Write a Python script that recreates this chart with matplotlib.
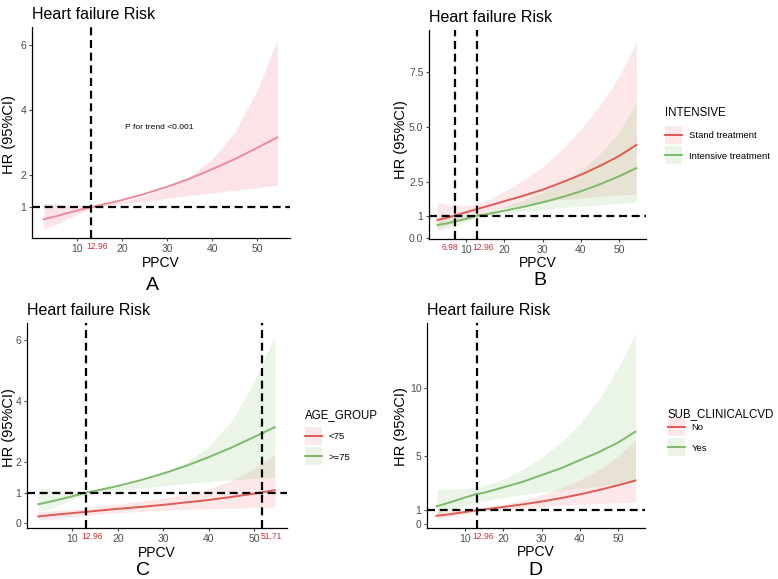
import matplotlib
matplotlib.use("Agg")
import matplotlib.pyplot as plt
from matplotlib.patches import Rectangle
from matplotlib.lines import Line2D
from matplotlib.legend_handler import HandlerBase
from matplotlib.transforms import blended_transform_factory

plt.rcParams['font.family'] = ['Liberation Sans', 'DejaVu Sans']

# PPCV grid the curves were read at
ppcv = [2.5, 5, 10, 12.96, 15, 20, 25, 30, 35, 40, 45, 50, 54.5]

# A: overall
a_hr = [0.63, 0.71, 0.90, 1.00, 1.06, 1.22, 1.41, 1.63, 1.88, 2.17, 2.48, 2.83, 3.15]
a_hi = [1.12, 1.10, 1.04, 1.02, 1.07, 1.18, 1.35, 1.60, 1.95, 2.48, 3.30, 4.60, 6.15]
a_lo = [0.33, 0.45, 0.78, 0.97, 1.03, 1.10, 1.18, 1.27, 1.36, 1.44, 1.52, 1.60, 1.68]

# B: INTENSIVE
b_std_hr = [0.80, 0.90, 1.15, 1.30, 1.40, 1.65, 1.90, 2.17, 2.50, 2.85, 3.25, 3.70, 4.20]
b_std_hi = [1.60, 1.50, 1.45, 1.55, 1.65, 2.10, 2.60, 3.20, 4.00, 4.90, 6.00, 7.30, 8.90]
b_std_lo = [0.40, 0.55, 0.85, 1.05, 1.15, 1.35, 1.50, 1.62, 1.72, 1.80, 1.87, 1.93, 1.97]
b_int_hr = [0.57, 0.65, 0.85, 1.00, 1.05, 1.22, 1.40, 1.60, 1.83, 2.10, 2.42, 2.78, 3.15]
b_int_hi = [0.95, 0.95, 1.00, 1.08, 1.15, 1.40, 1.70, 2.05, 2.50, 3.05, 3.80, 4.80, 6.15]
b_int_lo = [0.30, 0.40, 0.70, 0.92, 0.98, 1.08, 1.18, 1.27, 1.35, 1.42, 1.48, 1.55, 1.60]

# C: AGE_GROUP
c_y_hr = [0.22, 0.26, 0.33, 0.37, 0.40, 0.47, 0.53, 0.60, 0.68, 0.76, 0.86, 0.97, 1.08]
c_y_hi = [0.38, 0.40, 0.45, 0.50, 0.55, 0.63, 0.72, 0.82, 0.95, 1.12, 1.40, 1.80, 2.25]
c_y_lo = [0.10, 0.13, 0.20, 0.25, 0.28, 0.34, 0.38, 0.42, 0.45, 0.47, 0.49, 0.51, 0.52]
c_o_hr = [0.62, 0.70, 0.88, 1.00, 1.06, 1.22, 1.41, 1.63, 1.88, 2.17, 2.48, 2.83, 3.15]
c_o_hi = [1.15, 1.12, 1.05, 1.03, 1.08, 1.20, 1.38, 1.65, 2.00, 2.52, 3.35, 4.65, 6.15]
c_o_lo = [0.38, 0.47, 0.78, 0.93, 1.00, 1.08, 1.15, 1.22, 1.30, 1.36, 1.42, 1.47, 1.50]

# D: SUB_CLINICALCVD
d_no_hr = [0.60, 0.68, 0.88, 1.00, 1.07, 1.25, 1.44, 1.65, 1.90, 2.18, 2.50, 2.85, 3.20]
d_no_hi = [0.90, 0.95, 1.05, 1.12, 1.20, 1.45, 1.75, 2.15, 2.65, 3.25, 4.00, 5.00, 6.20]
d_no_lo = [0.35, 0.45, 0.72, 0.88, 0.95, 1.08, 1.18, 1.28, 1.36, 1.44, 1.50, 1.56, 1.60]
d_yes_hr = [1.30, 1.50, 1.95, 2.20, 2.30, 2.70, 3.10, 3.60, 4.10, 4.70, 5.30, 6.00, 6.80]
d_yes_hi = [2.60, 2.55, 2.60, 2.70, 2.85, 3.30, 4.00, 4.90, 6.00, 7.40, 9.20, 11.50, 14.00]
d_yes_lo = [0.75, 0.95, 1.35, 1.60, 1.70, 1.95, 2.15, 2.35, 2.50, 2.65, 2.80, 2.95, 3.05]

RED = '#DE5A54'
GREEN = '#7DB96A'
RED_FILL = '#F28C8C'
GREEN_FILL = '#8FCB7E'
PINK = '#E98C9B'
PINK_FILL = '#F7C3CB'
LABEL_RED = '#C8343F'

W, H = 778, 579
fig = plt.figure(figsize=(W / 100, H / 100), dpi=100)


class KeyHandler(HandlerBase):
    # ggplot-like key: filled square with the line through its middle
    def create_artists(self, legend, orig_handle, xdescent, ydescent,
                       width, height, fontsize, trans):
        line, fill, alpha = orig_handle
        c = 0.35 * fontsize
        hk = 1.9 * fontsize
        rect = Rectangle((-xdescent, c - hk / 2), width, hk, facecolor=fill,
                         alpha=alpha, edgecolor='none', transform=trans)
        ln = Line2D([-xdescent, -xdescent + width], [c, c], color=line,
                    lw=1.4, transform=trans)
        return [rect, ln]


def box(left, top, right, bottom):
    return [left / W, 1 - bottom / H, (right - left) / W, (bottom - top) / H]


def style(ax, xlim, ylim, yticks, ylabels, cuts, xlab_y, ylab_xy):
    ax.set_xlim(*xlim)
    ax.set_ylim(*ylim)
    ax.set_xticks([10, 20, 30, 40, 50])
    ax.set_yticks(yticks)
    ax.set_yticklabels(ylabels)
    for s in ['top', 'right']:
        ax.spines[s].set_visible(False)
    for s in ['left', 'bottom']:
        ax.spines[s].set_linewidth(0.9)
    ax.tick_params(length=2.5, width=0.8, pad=1.5, labelsize=7.5,
                   colors='#4D4D4D')
    ax.axhline(1, color='black', lw=1.6, ls=(0, (3.6, 2.1)), zorder=5)
    for v in cuts:
        ax.axvline(v, color='black', lw=1.6, ls=(0, (3.6, 2.1)), zorder=5)
    ax.set_title('Heart failure Risk', loc='left', fontsize=11.5, pad=6)
    ax.set_xlabel('PPCV', fontsize=10, va='center')
    ax.xaxis.set_label_coords(0.5, 1 - xlab_y / H,
                              transform=blended_transform_factory(ax.transAxes, fig.transFigure))
    ax.set_ylabel('HR (95%CI)', fontsize=10.5, va='center', ha='center')
    ax.yaxis.set_label_coords(ylab_xy[0] / W, 1 - ylab_xy[1] / H,
                              transform=fig.transFigure)


def cut_label(ax, v, side='left', dx=-3.3):
    ax.annotate(f'{v:.2f}', xy=(v, 0), xycoords=('data', 'axes fraction'),
                xytext=(dx, -3), textcoords='offset points', ha=side,
                va='top', fontsize=6.2, color=LABEL_RED)


def band(ax, hr, lo, hi, line, fill, alpha):
    ax.fill_between(ppcv, lo, hi, color=fill, alpha=alpha, lw=0)
    ax.plot(ppcv, hr, color=line, lw=1.4)


def add_legend(title, labels, left, title_y, first_top):
    fig.text(left / W, 1 - title_y / H, title, fontsize=8.3,
             ha='left', va='center')
    handles = [(RED, RED_FILL, 0.2), (GREEN, GREEN_FILL, 0.18)]
    fig.legend(handles, labels, loc='upper left',
               bbox_to_anchor=(left / W, 1 - first_top / H), frameon=False,
               fontsize=6.8, handlelength=1.8, handleheight=2.7,
               labelspacing=0.15, handletextpad=0.7,
               borderpad=0, borderaxespad=0,
               handler_map={tuple: KeyHandler()})


# A
ax = fig.add_axes(box(32, 27, 290, 238))
band(ax, a_hr, a_lo, a_hi, PINK, PINK_FILL, 0.45)
style(ax, (-0.1, 57.3), (0.05, 6.55), [1, 2, 4, 6], ['1', '2', '4', '6'],
      [12.96], 263, (9, 135))
cut_label(ax, 12.96)
ax.text(20.7, 3.46, 'P for trend <0.001', fontsize=6.1, va='center')

# B
ax = fig.add_axes(box(429, 30, 646, 239))
band(ax, b_std_hr, b_std_lo, b_std_hi, RED, RED_FILL, 0.2)
band(ax, b_int_hr, b_int_lo, b_int_hi, GREEN, GREEN_FILL, 0.18)
style(ax, (0.3, 57.0), (-0.06, 9.4), [0, 1, 2.5, 5, 7.5],
      ['0.0', '1', '2.5', '5.0', '7.5'], [6.98, 12.96], 263, (401, 140))
cut_label(ax, 6.98, 'right', 2.6)
cut_label(ax, 12.96)
add_legend('INTENSIVE', ['Stand treatment', 'Intensive treatment'],
           665, 113, 126)

# C
ax = fig.add_axes(box(27, 323, 287, 528))
band(ax, c_y_hr, c_y_lo, c_y_hi, RED, RED_FILL, 0.2)
band(ax, c_o_hr, c_o_lo, c_o_hi, GREEN, GREEN_FILL, 0.18)
style(ax, (0.0, 57.2), (-0.16, 6.57), [0, 1, 2, 4, 6],
      ['0', '1', '2', '4', '6'], [12.96, 51.71], 553, (9, 428))
cut_label(ax, 12.96)
cut_label(ax, 51.71, dx=-1.0)
add_legend('AGE_GROUP', ['<75', '>=75'], 305, 415, 427)

# D
ax = fig.add_axes(box(427, 323, 645, 528))
band(ax, d_no_hr, d_no_lo, d_no_hi, RED, RED_FILL, 0.2)
band(ax, d_yes_hr, d_yes_lo, d_yes_hi, GREEN, GREEN_FILL, 0.18)
style(ax, (0.0, 57.0), (-0.3, 14.8), [0, 1, 5, 10],
      ['0', '1', '5', '10'], [12.96], 552, (401, 427))
cut_label(ax, 12.96)
add_legend('SUB_CLINICALCVD', ['No', 'Yes'], 668, 414, 418)

# panel letters
for letter, px, py in [('A', 152, 290), ('B', 540, 285),
                       ('C', 143, 575), ('D', 535, 575)]:
    fig.text(px / W, 1 - py / H, letter, fontsize=14, ha='center',
             va='baseline')

fig.savefig('out.png', dpi=100)
